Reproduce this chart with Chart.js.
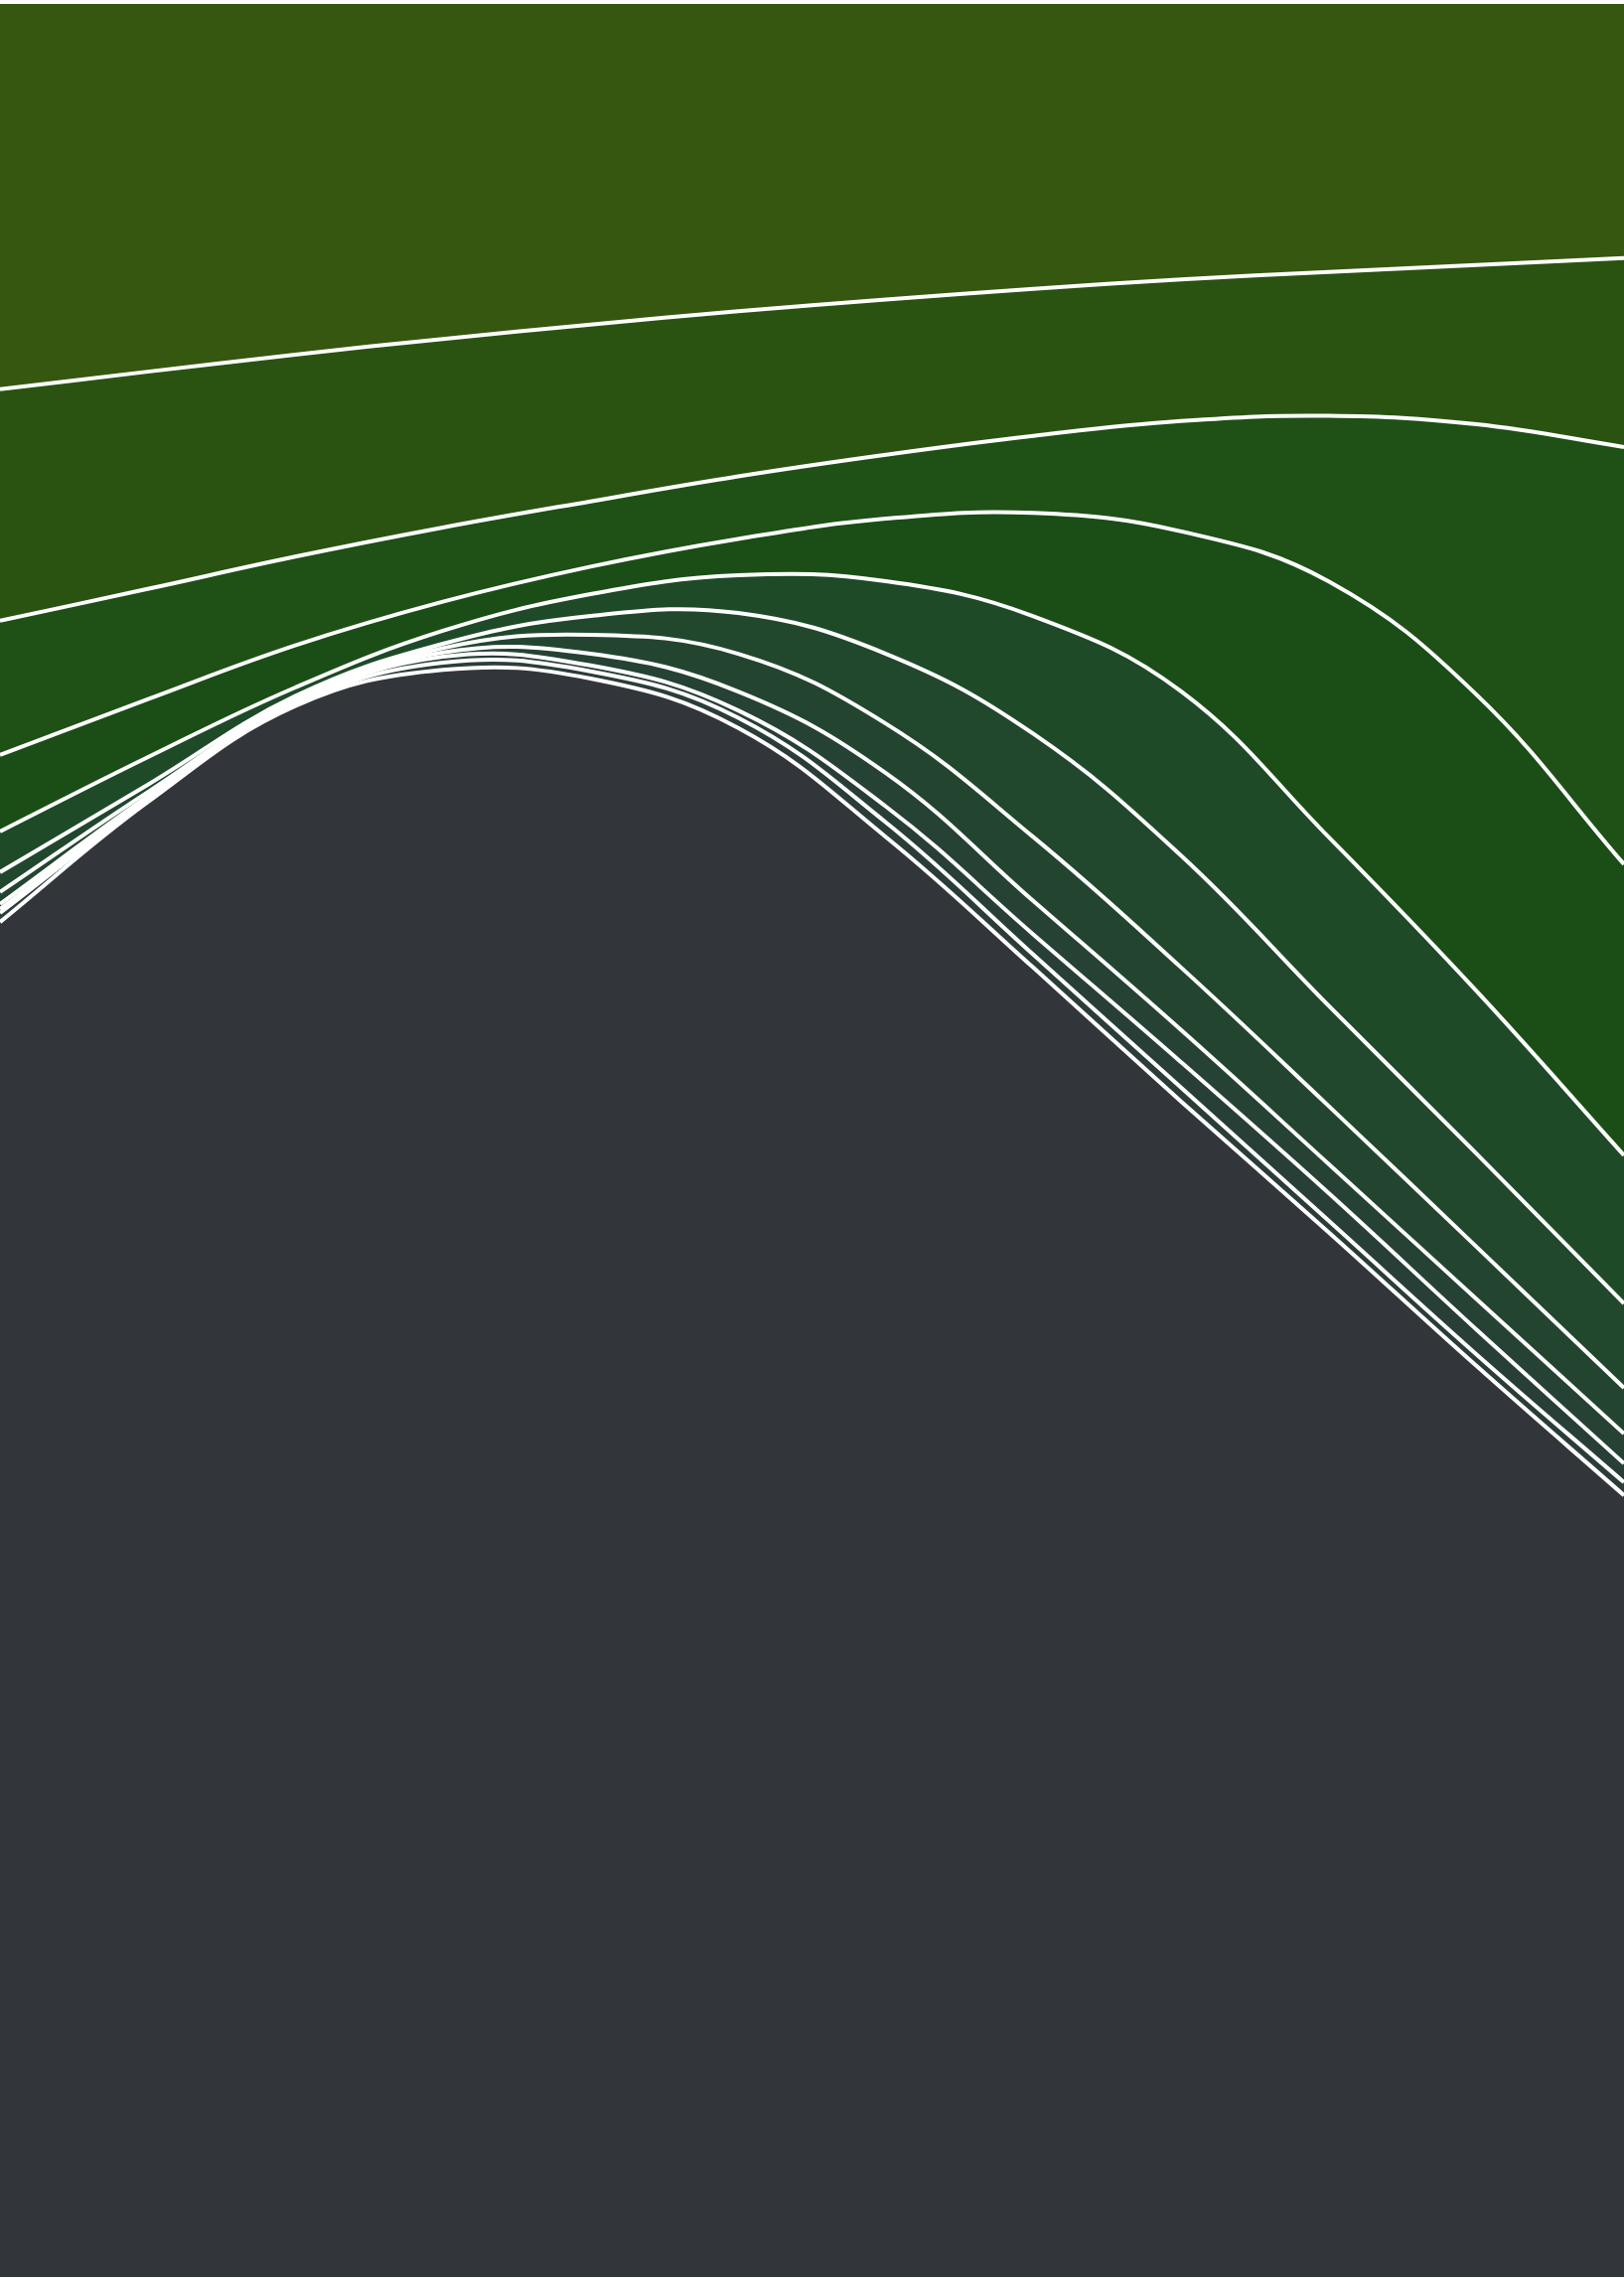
<!DOCTYPE html>
<html>
<head>
<meta charset="utf-8">
<title>Stacked area</title>
<script src="https://cdn.jsdelivr.net/npm/chart.js@4/dist/chart.umd.min.js"></script>
<style>
  html, body { margin: 0; padding: 0; background: #ffffff; }
  #wrap { width: 1635px; height: 2294px; }
</style>
</head>
<body>
<div id="wrap"><canvas id="areaChart"></canvas></div>
<script>
// x categories (equally spaced steps across the plot)
const steps = ['1', '2', '3', '4', '5', '6', '7', '8', '9', '10', '11', '12'];

// series values (percent of total), bottom to top
const s1 = [59.56, 64.83, 69.05, 70.64, 70.26, 68.09, 63.30, 57.55, 51.67, 45.92, 40.05, 34.36];
const s2 = [0.40, 0.06, 0.06, 0.32, 0.32, 0.45, 0.64, 0.57, 0.61, 0.51, 0.51, 0.57];
const s3 = [0.17, 0.06, 0.06, 0.26, 0.26, 0.32, 0.70, 0.89, 1.12, 1.21, 1.09, 0.83];
const s4 = [0.22, 0.13, 0.13, 0.19, 0.51, 0.83, 1.47, 1.47, 1.41, 1.28, 1.34, 1.31];
const s5 = [0.53, 0.19, 0.06, 0.19, 0.83, 1.66, 2.17, 2.81, 2.75, 2.55, 2.30, 2.01];
const s6 = [0.87, 0.32, 0.13, 0.19, 0.83, 1.79, 3.07, 4.54, 4.92, 4.41, 4.09, 3.71];
const s7 = [1.79, 1.21, 0.38, 0.57, 0.96, 1.66, 3.19, 5.17, 7.22, 7.41, 7.15, 6.51];
const s8 = [3.36, 2.55, 1.85, 1.28, 1.21, 1.60, 2.75, 4.54, 7.03, 11.24, 13.03, 12.80];
const s9 = [5.90, 4.85, 3.90, 3.26, 2.87, 2.75, 2.81, 3.39, 4.85, 7.28, 11.88, 18.34];
const s10 = [10.18, 9.55, 8.88, 8.29, 7.77, 7.26, 6.82, 6.46, 6.23, 6.32, 7.00, 8.30];
const s11 = [17.02, 16.25, 15.50, 14.81, 14.18, 13.59, 13.08, 12.61, 12.19, 11.87, 11.56, 11.26];

const seriesList = [s1, s2, s3, s4, s5, s6, s7, s8, s9, s10, s11];
const colours = ['#32363a', '#2b3d39', '#283f37', '#254234', '#234530', '#21472c',
                 '#1e4a28', '#1a4e16', '#1f5016', '#2a5312', '#35570f'];

const datasets = seriesList.map((vals, i) => ({
    label: 'Series ' + (i + 1),
    data: vals,
    backgroundColor: colours[i],
    borderColor: '#ffffff',
    borderWidth: 4,
    pointRadius: 0,
    tension: 0.4,
    fill: i === 0 ? 'origin' : '-1'
}));

const ctx = document.getElementById('areaChart').getContext('2d');
const areaChart = new Chart(ctx, {
    type: 'line',
    data: { labels: steps, datasets: datasets },
    options: {
        responsive: true,
        maintainAspectRatio: false,
        animation: false,
        layout: { padding: { top: 2, bottom: 2, left: 0, right: 0 } },
        plugins: { legend: { display: false }, tooltip: { enabled: false } },
        scales: {
            x: { display: false },
            y: { display: false, stacked: true, min: 0, max: 100 }
        }
    }
});
</script>
</body>
</html>
